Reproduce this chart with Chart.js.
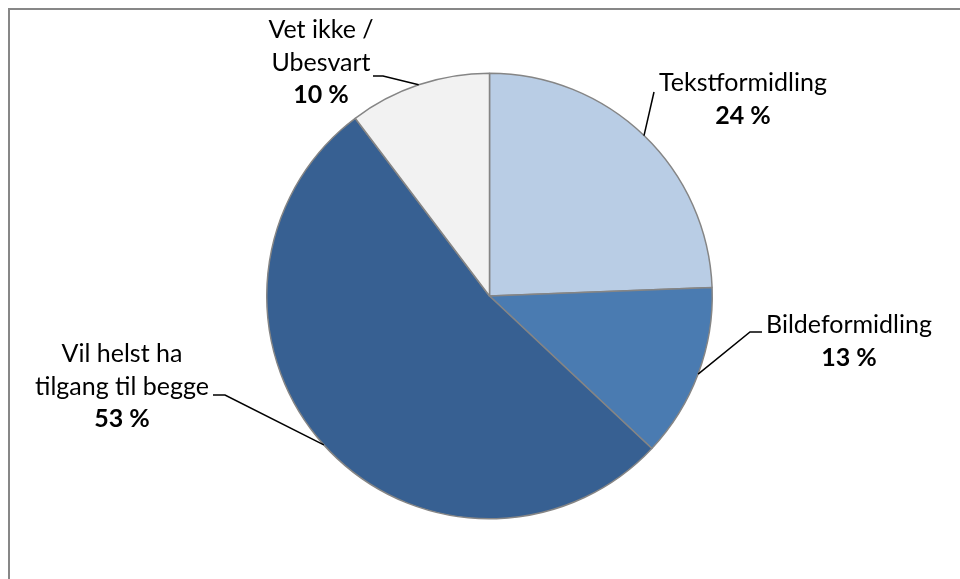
<!DOCTYPE html>
<html>
<head>
<meta charset="utf-8">
<script src="https://cdn.jsdelivr.net/npm/chart.js@4.4.1/dist/chart.umd.min.js"></script>
<style>
  html, body { margin: 0; padding: 0; background: #fff; }
  #wrap { width: 960px; height: 579px; position: relative; }
</style>
</head>
<body>
<div id="wrap"><canvas id="c" width="960" height="579"></canvas></div>
<script>
const categories = ['Tekstformidling', 'Bildeformidling', 'Vil helst ha tilgang til begge', 'Vet ikke / Ubesvart'];
const values = [24.4, 12.6, 52.7, 10.3];
const labelLines = [['Tekstformidling'], ['Bildeformidling'], ['Vil helst ha', 'tilgang til begge'], ['Vet ikke /', 'Ubesvart']];
const colors = ['#B9CDE5', '#4A7BB1', '#376092', '#F2F2F2'];

const FONT = 'Lato, "Open Sans", sans-serif';
const FONT_SIZE = 25;

// label layout (x center, first line center y, line start on text side, optional elbow)
const labelLayout = [
  { x: 743, y: 83, lineStart: [654, 92], elbow: null },
  { x: 849, y: 325, lineStart: [762, 332], elbow: [750, 332] },
  { x: 122, y: 354, lineStart: [213, 395], elbow: [225, 395] },
  { x: 321, y: 30, lineStart: [373, 76], elbow: [383, 76] }
];
const lineH = 32.5;

const framePlugin = {
  id: 'frame',
  beforeDraw(chart) {
    const ctx = chart.ctx;
    ctx.save();
    ctx.fillStyle = '#fff';
    ctx.fillRect(0, 0, chart.width, chart.height);
    ctx.strokeStyle = '#878787';
    ctx.lineWidth = 2;
    ctx.beginPath();
    ctx.moveTo(chart.width, 9);
    ctx.lineTo(9, 9);
    ctx.lineTo(9, chart.height);
    ctx.stroke();
    ctx.restore();
  }
};

const labelPlugin = {
  id: 'pieLabels',
  afterDatasetsDraw(chart) {
    const ctx = chart.ctx;
    const meta = chart.getDatasetMeta(0);
    ctx.save();
    meta.data.forEach((arc, i) => {
      const p = arc.getProps(['x', 'y', 'startAngle', 'endAngle', 'outerRadius'], true);
      const mid = (p.startAngle + p.endAngle) / 2;
      const ax = p.x + Math.cos(mid) * p.outerRadius;
      const ay = p.y + Math.sin(mid) * p.outerRadius;
      const L = labelLayout[i];
      ctx.strokeStyle = '#000';
      ctx.lineWidth = 1.5;
      ctx.beginPath();
      ctx.moveTo(L.lineStart[0], L.lineStart[1]);
      if (L.elbow) ctx.lineTo(L.elbow[0], L.elbow[1]);
      ctx.lineTo(ax, ay);
      ctx.stroke();
      ctx.fillStyle = '#000';
      ctx.textAlign = 'center';
      ctx.textBaseline = 'middle';
      const lines = labelLines[i];
      ctx.font = FONT_SIZE + 'px ' + FONT;
      lines.forEach((t, k) => ctx.fillText(t, L.x, L.y + k * lineH));
      ctx.font = 'bold ' + FONT_SIZE + 'px ' + FONT;
      ctx.fillText(Math.round(values[i]) + ' %', L.x, L.y + lines.length * lineH);
    });
    ctx.restore();
  }
};

new Chart(document.getElementById('c'), {
  type: 'pie',
  data: {
    labels: categories,
    datasets: [{
      data: values,
      backgroundColor: colors,
      borderColor: '#858585',
      borderWidth: 1.5,
      borderAlign: 'center'
    }]
  },
  options: {
    responsive: false,
    animation: false,
    devicePixelRatio: 1,
    layout: { padding: { left: 266, right: 247, top: 72, bottom: 59 } },
    plugins: {
      legend: { display: false },
      tooltip: { enabled: false },
      title: { display: false }
    }
  },
  plugins: [framePlugin, labelPlugin]
});
</script>
</body>
</html>
